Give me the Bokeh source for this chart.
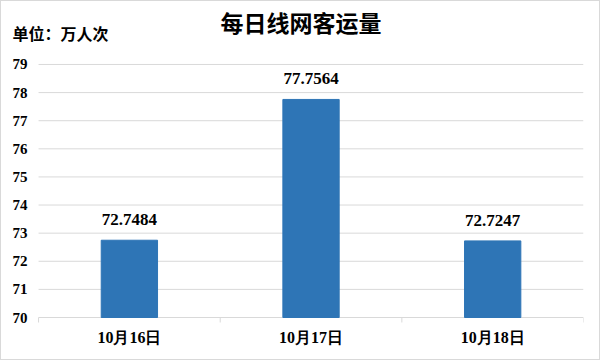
from bokeh.plotting import figure
from bokeh.models import Range1d, ColumnDataSource, LabelSet, Label
from bokeh.embed import file_html
from bokeh.resources import INLINE

categories = ["10月16日", "10月17日", "10月18日"]
values = [72.7484, 77.7564, 72.7247]
y_ticks = [70, 71, 72, 73, 74, 75, 76, 77, 78, 79]
title_text = "每日线网客运量"
unit_text = "单位：万人次"

n = len(categories)
xs = list(range(n))
ymin = y_ticks[0]
src = ColumnDataSource(dict(x=xs, top=values, label=[f"{v:.4f}" for v in values],
                            cat=categories, base=[ymin] * n))
tick_src = ColumnDataSource(dict(y=y_ticks, x=[-0.5] * len(y_ticks), x1=[n - 0.5] * len(y_ticks),
                                 label=[str(t) for t in y_ticks]))
bounds = [i - 0.5 for i in range(n + 1)]
bound_src = ColumnDataSource(dict(x=bounds, y0=[ymin] * len(bounds),
                                  y1=[ymin - 5 / 28.114] * len(bounds)))

# frame covers the whole canvas (except a right margin) so that no text is clipped
p = figure(width=600, height=360, output_backend="svg", toolbar_location=None,
           x_range=Range1d(-0.704, n - 0.5), y_range=Range1d(68.435, 81.24),
           min_border_left=0, min_border_right=18, min_border_top=0, min_border_bottom=0)
p.styles = {"border": "1px solid #d9d9d9"}
p.outline_line_color = None
p.background_fill_color = "white"
p.xgrid.grid_line_color = None
p.ygrid.grid_line_color = None
p.xaxis.visible = False
p.yaxis.visible = False

# horizontal gridlines over the category area only
p.segment(x0="x", x1="x1", y0="y", y1="y", source=tick_src, line_color="#d9d9d9", line_width=1)
# category boundary tick marks below the axis line
p.segment(x0="x", x1="x", y0="y0", y1="y1", source=bound_src, line_color="#d9d9d9", line_width=1)

p.vbar(x="x", top="top", bottom=ymin, width=0.31, source=src, color="#2e75b6")

p.add_layout(LabelSet(x="x", y="top", text="label", source=src, text_align="center",
                      text_baseline="bottom", y_offset=15, text_font="Liberation Serif",
                      text_font_style="bold", text_font_size="17px", text_color="#000000"))

# y tick labels
p.add_layout(LabelSet(x="x", y="y", text="label", source=tick_src, text_align="right",
                      text_baseline="middle", x_offset=-11, text_font="Liberation Serif",
                      text_font_style="bold", text_font_size="15px", text_color="#000000"))

# category labels
p.add_layout(LabelSet(x="x", y="base", text="cat", source=src, text_align="center",
                      text_baseline="middle", y_offset=-20, text_font="Liberation Serif",
                      text_font_style="bold", text_font_size="16px", text_color="#000000"))

p.add_layout(Label(x=(n - 1) / 2, x_offset=-10, y=y_ticks[-1], y_offset=42, text=title_text,
                   text_align="center", text_baseline="middle", text_font="Noto Sans CJK SC",
                   text_font_style="bold", text_font_size="23px", text_color="#000000"))
p.add_layout(Label(x=-0.5, x_offset=-26, y=y_ticks[-1], y_offset=31, text=unit_text,
                   text_align="left", text_baseline="middle", text_font="Noto Sans CJK SC",
                   text_font_style="bold", text_font_size="16px", text_color="#000000"))

open("out.html", "w").write(file_html(p, INLINE))
